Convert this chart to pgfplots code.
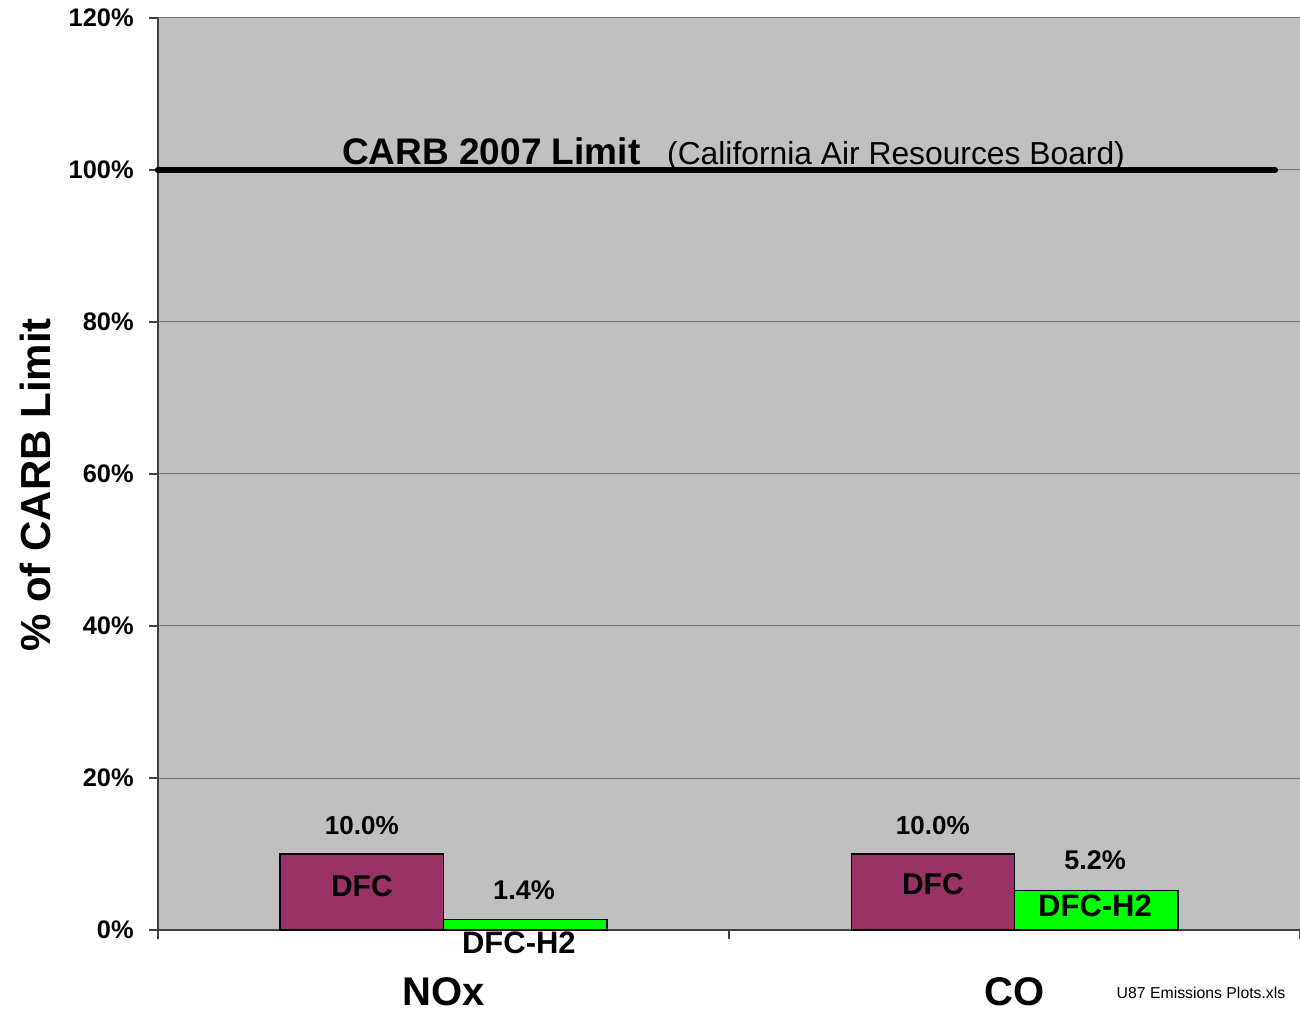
\documentclass[border=0pt]{standalone}
\usepackage{pgfplots}
\pgfplotsset{compat=1.18}
\usepackage{fontspec}
\setmainfont{Liberation Sans}
\definecolor{plotbg}{HTML}{C0C0C0}
\definecolor{dfc}{HTML}{993366}
\definecolor{dfch}{HTML}{00FF00}
\begin{document}
\begin{tikzpicture}
\useasboundingbox (0,0) rectangle (650pt,506pt);
\node[rotate=90, font=\fontsize{21}{24}\selectfont\bfseries] at (17.5pt,263.5pt) {\% of CARB Limit};
\node[font=\fontsize{7.9}{9}\selectfont, anchor=center] at (600.5pt,9.5pt) {U87 Emissions Plots.xls};
\begin{axis}[
  at={(79pt,41pt)}, anchor=south west,
  scale only axis, width=571pt, height=456pt,
  xmin=-0.5, xmax=1.5, ymin=0, ymax=120,
  clip=false,
  axis background/.style={fill=plotbg},
  axis x line*=bottom, axis y line*=left,
  axis line style={draw=black!75, line width=0.6pt},
  ytick={0,20,40,60,80,100,120},
  yticklabels={0\%,20\%,40\%,60\%,80\%,100\%,120\%},
  yticklabel style={font=\fontsize{12.7}{14}\selectfont\bfseries, anchor=east, inner sep=0pt, xshift=-7.5pt},
  ymajorgrids, grid style={draw=black!55, line width=0.5pt},
  tick align=outside,
  major tick length=4.5pt,
  ytick style={draw=black!75, line width=0.6pt},
  xtick={0,1}, xticklabels={NOx,CO},
  xticklabel style={font=\fontsize{20}{22}\selectfont\bfseries, anchor=base, inner sep=0pt, yshift=-33pt},
  xtick style={draw=none},
  extra x ticks={-0.5,0.5,1.5}, extra x tick labels={},
  extra x tick style={xtick style={draw=black!75, line width=0.6pt}, grid=none},
]
% top border gridline at 120
\addplot[draw=black!55, line width=0.5pt, forget plot] coordinates {(-0.5,120) (1.5,120)};
% limit line
\addplot[black, line width=3.2pt, line cap=round] coordinates {(-0.5,100) (1.456,100)};
% bars
\addplot[ybar, bar width=0.286, bar shift=-0.143, fill=dfc, draw=black, line width=0.7pt] coordinates {(0,10.0) (1,10.0)};
\addplot[ybar, bar width=0.286, bar shift=0.143, fill=dfch, draw=black, line width=0.7pt] coordinates {(0,1.4) (1,5.2)};
% labels
\node[anchor=base west, font=\fontsize{18.5}{20}\selectfont\bfseries, inner sep=0pt] at (axis cs:-0.178,100.66) {CARB 2007 Limit};
\node[anchor=base west, font=\fontsize{15.9}{18}\selectfont, inner sep=0pt] at (axis cs:0.391,100.7) {(California Air Resources Board)};
\node[font=\fontsize{13}{15}\selectfont\bfseries] at (axis cs:-0.143,13.7) {10.0\%};
\node[font=\fontsize{13}{15}\selectfont\bfseries] at (axis cs:0.857,13.7) {10.0\%};
\node[font=\fontsize{13.5}{15}\selectfont\bfseries] at (axis cs:0.141,5.26) {1.4\%};
\node[font=\fontsize{13.5}{15}\selectfont\bfseries] at (axis cs:1.141,9.2) {5.2\%};
\node[font=\fontsize{15}{17}\selectfont\bfseries] at (axis cs:-0.143,5.8) {DFC};
\node[font=\fontsize{15}{17}\selectfont\bfseries] at (axis cs:0.857,6.05) {DFC};
\node[font=\fontsize{15.5}{17}\selectfont\bfseries] at (axis cs:0.132,-1.7) {DFC-H2};
\node[font=\fontsize{15.5}{17}\selectfont\bfseries] at (axis cs:1.141,3.16) {DFC-H2};
\end{axis}
\end{tikzpicture}
\end{document}
